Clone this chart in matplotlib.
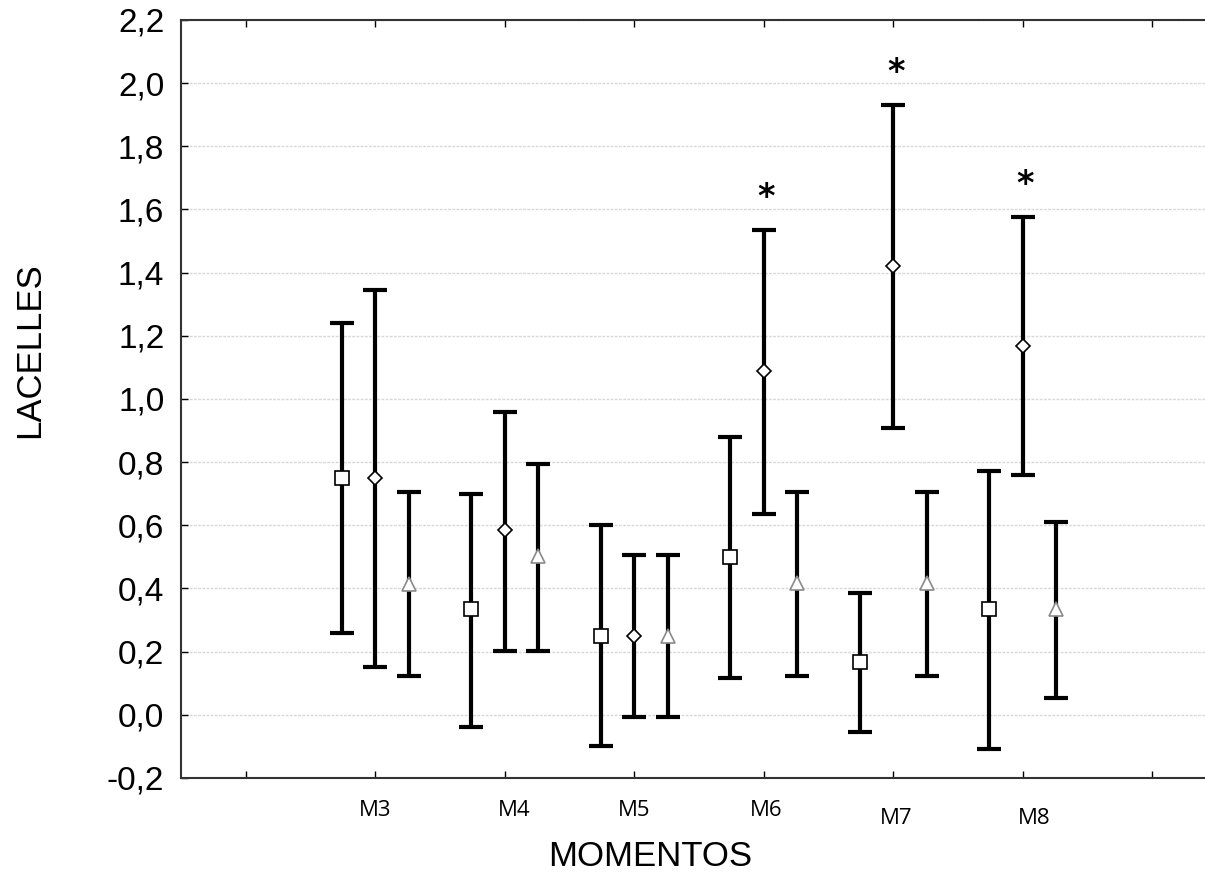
import numpy as np
import matplotlib
matplotlib.use('Agg')
import matplotlib.pyplot as plt
import matplotlib.transforms as mtransforms

# datos
momentos = ['M3', 'M4', 'M5', 'M6', 'M7', 'M8']

media_cuadrado = [0.75, 0.335, 0.25, 0.50, 0.168, 0.336]
sup_cuadrado = [1.24, 0.70, 0.60, 0.88, 0.386, 0.773]
inf_cuadrado = [0.26, -0.038, -0.10, 0.117, -0.054, -0.108]

media_rombo = [0.75, 0.586, 0.25, 1.089, 1.42, 1.168]
sup_rombo = [1.345, 0.96, 0.507, 1.536, 1.93, 1.577]
inf_rombo = [0.152, 0.203, -0.006, 0.636, 0.909, 0.76]

media_triangulo = [0.415, 0.503, 0.25, 0.418, 0.418, 0.336]
sup_triangulo = [0.706, 0.795, 0.507, 0.706, 0.706, 0.611]
inf_triangulo = [0.124, 0.203, -0.006, 0.124, 0.124, 0.054]

significativo = [False, False, False, True, True, True]

y_ticks = [-0.2, 0.0, 0.2, 0.4, 0.6, 0.8, 1.0, 1.2, 1.4, 1.6, 1.8, 2.0, 2.2]

fig = plt.figure(figsize=(12.05, 8.73), dpi=100)
ax = fig.add_axes([181 / 1205, 95 / 873, (1217 - 181) / 1205, (778 - 20) / 873])

x = np.arange(1, len(momentos) + 1)
desp = 0.26

series = [
    (x - desp, media_cuadrado, inf_cuadrado, sup_cuadrado, 's', 10, 'black'),
    (x, media_rombo, inf_rombo, sup_rombo, 'D', 7.5, 'black'),
    (x + desp, media_triangulo, inf_triangulo, sup_triangulo, '^', 10, '#8a8a8a'),
]

for xs, m, lo, hi, marker, ms, ec in series:
    m = np.array(m)
    err = [m - np.array(lo), np.array(hi) - m]
    ax.errorbar(xs, m, yerr=err, fmt='none', ecolor='black', elinewidth=3,
                capsize=8.5, capthick=3, zorder=2)
    ax.plot(xs, m, linestyle='none', marker=marker, markersize=ms,
            markerfacecolor='white', markeredgecolor=ec, markeredgewidth=1.2, zorder=3)

for xi, hi, sig in zip(x, sup_rombo, significativo):
    if sig:
        ax.text(xi + 0.02, hi + 0.05, '*', ha='center', va='bottom', fontsize=24,
                family='DejaVu Sans', fontweight='bold')

ax.set_xlim(-0.5, 7.5)
ax.set_ylim(-0.2, 2.2)
ax.set_xticks(np.arange(0, 8))
ax.set_xticklabels([])
ax.set_yticks(y_ticks)
ax.set_yticklabels([('%.1f' % v).replace('.', ',') for v in y_ticks],
                   family='Liberation Sans', fontsize=24)
ax.tick_params(direction='in', length=5, width=1, top=True, bottom=True, left=True,
               right=False, pad=12)
ax.yaxis.grid(True, linestyle=(0, (2, 1)), color='#d8d8d8', linewidth=1)
ax.set_axisbelow(True)
for s in ax.spines.values():
    s.set_linewidth(1.5)
    s.set_color('#333333')

trans = mtransforms.blended_transform_factory(ax.transData, fig.transFigure)
alturas = [810, 810, 810, 810, 818, 818]
corr_x = [0.0, 0.07, 0.0, 0.02, 0.02, 0.09]
for xi, nombre, h, dx in zip(x, momentos, alturas, corr_x):
    fig.text(xi + dx, 1 - h / 873, nombre, transform=trans, ha='center', va='center',
             fontsize=16, family='Open Sans')
fig.text(650 / 1205, 1 - 857 / 873, 'MOMENTOS', ha='center', va='center',
         fontsize=25, family='Liberation Sans')
fig.text(30 / 1205, 1 - 350 / 873, 'LACELLES', ha='center', va='center',
         rotation=90, fontsize=25, family='Liberation Sans')

fig.savefig('out.png', dpi=100)
